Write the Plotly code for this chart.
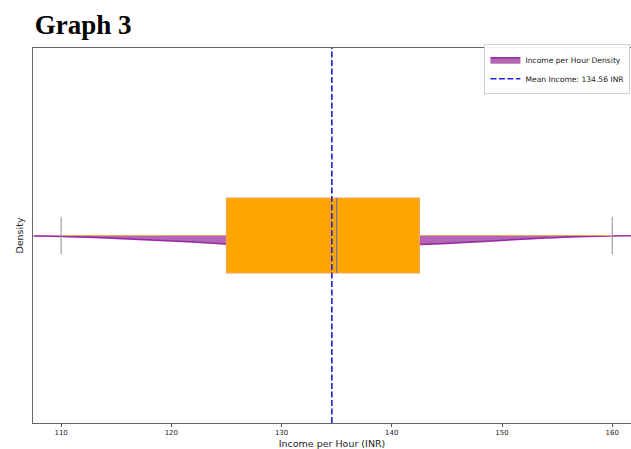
import plotly.graph_objects as go

# ---- data ----
income_grid = [107.5, 110, 113, 116, 119, 122, 125, 128, 131, 134, 137, 140,
               142.5, 145, 148, 151, 154, 157, 160, 161.7]
density = [0.003, 0.005, 0.011, 0.019, 0.027, 0.035, 0.046, 0.053, 0.059, 0.061,
           0.059, 0.053, 0.048, 0.042, 0.033, 0.023, 0.013, 0.006, 0.003, 0.001]

q1 = 125.0
median = 135.0
q3 = 142.5
lower_whisker = 110.0
upper_whisker = 160.0
mean_income = 134.56

x_ticks = [110, 120, 130, 140, 150, 160]
x_range = [107.45, 161.7]
y_range = [-1, 1]

fig = go.Figure()

# density (drawn below the baseline)
fig.add_trace(go.Scatter(
    x=income_grid, y=[-d for d in density], mode="lines",
    fill="tozeroy", fillcolor="rgba(128,0,128,0.6)",
    line=dict(color="rgba(140,20,150,0.85)", width=1.5, shape="spline"),
    name="Income per Hour Density", hoverinfo="skip",
))

# box plot from summary statistics (on an overlaying axis so it sits above the density)
fig.add_trace(go.Box(
    q1=[q1], median=[median], q3=[q3],
    lowerfence=[lower_whisker], upperfence=[upper_whisker],
    y=[0], orientation="h", width=0.4, whiskerwidth=0,
    fillcolor="orange", line=dict(color="#f2a45a", width=1.2),
    showlegend=False, hoverinfo="skip", xaxis="x2", yaxis="y2",
))

# median line
fig.add_trace(go.Scatter(
    x=[median, median], y=[-0.2, 0.2], mode="lines",
    line=dict(color="#777777", width=1.2), showlegend=False, hoverinfo="skip",
    xaxis="x2", yaxis="y2",
))

# whisker caps
fig.add_trace(go.Scatter(
    x=[lower_whisker, lower_whisker, None, upper_whisker, upper_whisker],
    y=[-0.1, 0.1, None, -0.1, 0.1], mode="lines",
    line=dict(color="#a0a0a0", width=1.2), showlegend=False, hoverinfo="skip",
    xaxis="x2", yaxis="y2",
))

# mean line
fig.add_trace(go.Scatter(
    x=[mean_income, mean_income], y=y_range, mode="lines",
    line=dict(color="#1f1fd8", width=1.6, dash="6px,2.5px"),
    name=f"Mean Income: {mean_income:.2f} INR", hoverinfo="skip",
    xaxis="x2", yaxis="y2",
))

fig.update_layout(
    width=631, height=449,
    margin=dict(l=33, r=0, t=48, b=26),
    plot_bgcolor="white", paper_bgcolor="white",
    font=dict(family="DejaVu Sans", color="#222"),
    title=dict(text="<b>Graph 3</b>", x=0.055, xanchor="left", y=0.945, yanchor="middle",
               font=dict(family="Liberation Serif", size=27, color="black")),
    showlegend=True,
    legend=dict(x=0.999, xanchor="right", y=1.01, yanchor="top",
                bgcolor="rgba(255,255,255,0.9)", bordercolor="#d0d0d0", borderwidth=1,
                font=dict(size=7.6, family="DejaVu Sans", color="#222"),
                itemwidth=30, tracegroupgap=0),
    xaxis=dict(range=x_range, tickvals=x_ticks, ticks="outside", ticklen=3,
               tickcolor="#555", tickfont=dict(size=7, color="#222"),
               showline=True, linecolor="#666", linewidth=1, mirror=True,
               showgrid=False, zeroline=False, automargin=False,
               title=dict(text="Income per Hour (INR)", font=dict(size=9.5, color="#222"), standoff=4)),
    yaxis=dict(range=y_range, showticklabels=False, ticks="",
               showline=True, linecolor="#666", linewidth=1,
               showgrid=False, zeroline=False, automargin=False,
               title=dict(text="Density", font=dict(size=9.5, color="#222"), standoff=6)),
    xaxis2=dict(range=x_range, overlaying="x", matches="x", visible=False),
    yaxis2=dict(range=y_range, overlaying="y", visible=False),
)

fig.write_html(
    "out.html",
    config={"displayModeBar": False},
    post_script="document.body.style.margin='0';document.body.style.overflow='hidden';",
)
